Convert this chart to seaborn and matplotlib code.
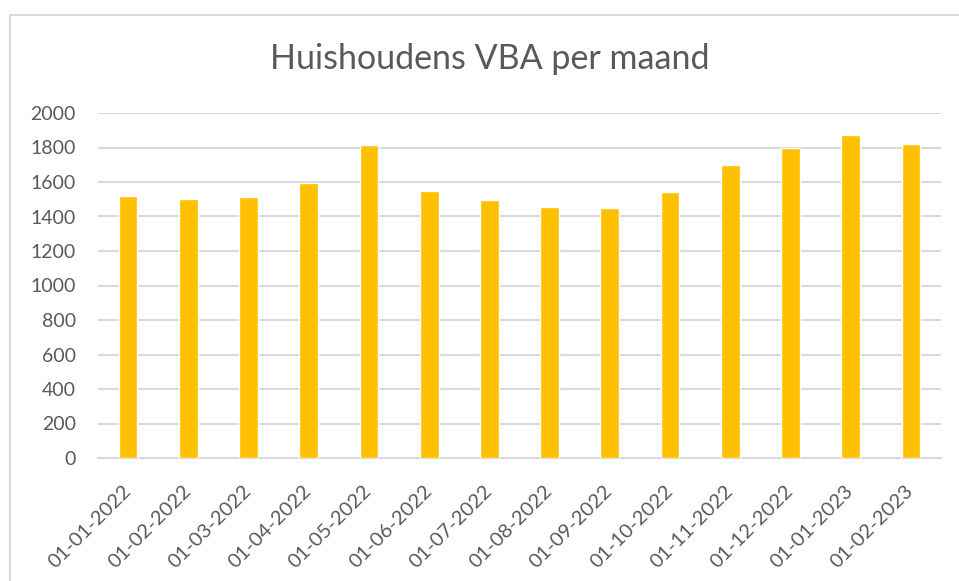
import pandas as pd
import seaborn as sns
import matplotlib.pyplot as plt
from matplotlib.patches import Rectangle

# Data
months = ['01-01-2022', '01-02-2022', '01-03-2022', '01-04-2022', '01-05-2022',
          '01-06-2022', '01-07-2022', '01-08-2022', '01-09-2022', '01-10-2022',
          '01-11-2022', '01-12-2022', '01-01-2023', '01-02-2023']
households = [1521, 1501, 1515, 1594, 1812, 1546, 1493, 1457, 1451, 1540,
              1701, 1800, 1870, 1822]
y_ticks = [0, 200, 400, 600, 800, 1000, 1200, 1400, 1600, 1800, 2000]

TEXT = '#595959'
GRID = '#D9D9D9'
BAR = '#FFC000'

sns.set_style('white')
plt.rcParams['font.family'] = ['Lato', 'DejaVu Sans']

df = pd.DataFrame({'maand': months, 'huishoudens': households})

fig = plt.figure(figsize=(9.59, 5.81), dpi=100)
W, H = 959, 581
ax = fig.add_axes([98 / W, (H - 458) / H, (941 - 98) / W, (458 - 113) / H])

sns.barplot(data=df, x='maand', y='huishoudens', color=BAR, width=0.31,
            saturation=1, ax=ax, zorder=3)

ax.set_ylim(0, 2000)
ax.set_xlim(-0.5, len(months) - 0.5)
ax.set_yticks(y_ticks)
ax.set_yticklabels([str(v) for v in y_ticks])
ax.grid(axis='y', color=GRID, linewidth=1.5, zorder=0)
ax.set_xlabel('')
ax.set_ylabel('')

for side in ['top', 'right', 'left']:
    ax.spines[side].set_visible(False)
ax.spines['bottom'].set_color(GRID)
ax.spines['bottom'].set_linewidth(1.5)

# category separator ticks like Excel
ax.set_xticks([i - 0.5 for i in range(len(months) + 1)], minor=True)
ax.tick_params(axis='x', which='minor', length=8, width=1.5, color=GRID)
ax.tick_params(axis='x', which='major', length=0, pad=22, labelsize=14.5, labelcolor=TEXT)
ax.tick_params(axis='y', length=0, pad=16, labelsize=14, labelcolor=TEXT)
plt.setp(ax.get_xticklabels(), rotation=45, ha='right', va='center',
         rotation_mode='anchor')

fig.text(490 / W, 1 - 59 / H, 'Huishoudens VBA per maand', ha='center', va='center',
         fontsize=24.5, color=TEXT)

# chart area border (only top and left edges visible in the crop)
fig.patches.append(Rectangle((10 / W, -0.1), 1.2, 1 - 15 / H + 0.1,
                             transform=fig.transFigure, fill=False,
                             edgecolor=GRID, linewidth=1.5))

fig.savefig('out.png', dpi=100, facecolor='white')
